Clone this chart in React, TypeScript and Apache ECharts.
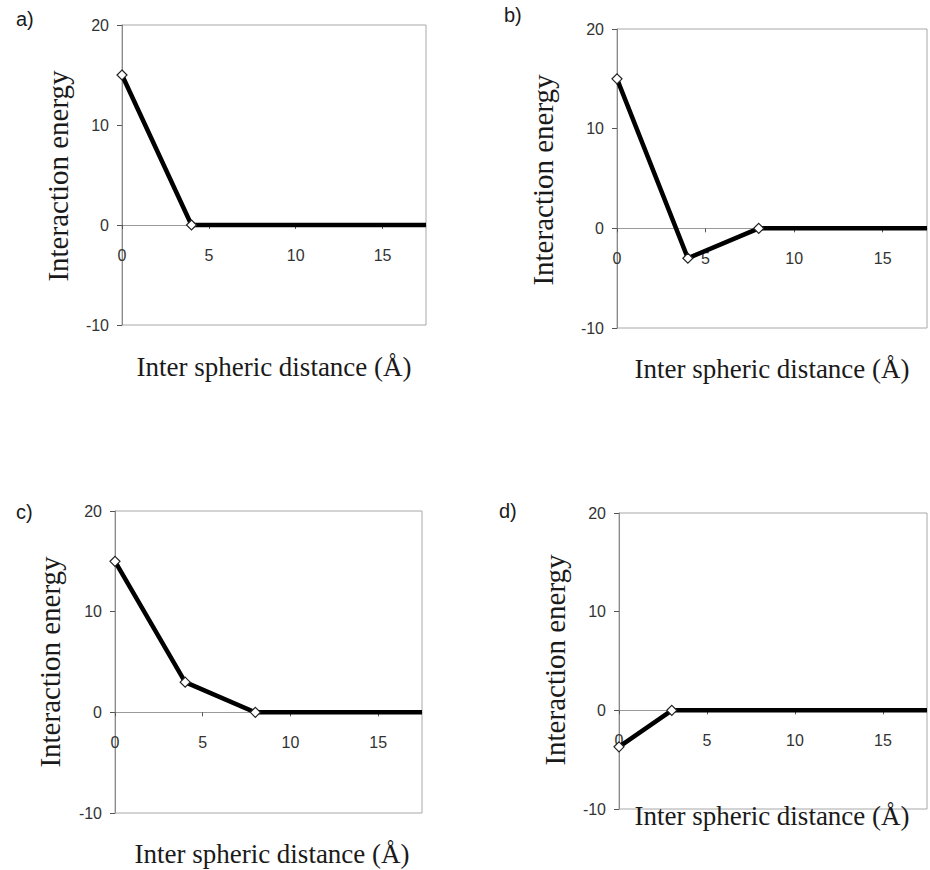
import React, { useEffect, useRef } from "react";
import * as echarts from "echarts";

const xMax = 17.5;
const yMin = -10;
const yMax = 20;

const panelLabels = ["a)", "b)", "c)", "d)"];
const xA = [0, 4, 17.5];
const yA = [15, 0, 0];
const xB = [0, 4, 8, 17.5];
const yB = [15, -3, 0, 0];
const xC = [0, 4, 8, 17.5];
const yC = [15, 3, 0, 0];
const xD = [0, 3, 17.5];
const yD = [-3.7, 0, 0];

const xTitle = "Inter spheric distance (Å)";
const yTitle = "Interaction energy";

const grids = [
  { left: 122, top: 25, width: 304, height: 300 },
  { left: 617, top: 29, width: 310, height: 299 },
  { left: 115, top: 511, width: 307, height: 302 },
  { left: 619, top: 513, width: 308, height: 296 },
];
const yTitlePos = [
  [58, 176],
  [543, 180],
  [50, 662],
  [555, 660],
];
const xTitlePos = [
  [274, 367],
  [772, 369],
  [272, 854],
  [772, 816],
];
const labelPos = [
  [16, 19],
  [504, 15],
  [16, 512],
  [499, 511],
];

export default function App() {
  const ref = useRef<HTMLDivElement>(null);
  useEffect(() => {
    if (!ref.current) return;
    const chart = echarts.init(ref.current, null, { renderer: "svg" });
    const series = [
      [xA, yA],
      [xB, yB],
      [xC, yC],
      [xD, yD],
    ];
    const option: any = {
      animation: false,
      backgroundColor: "#fff",
      grid: grids.map((g) => ({
        ...g,
        show: true,
        borderColor: "#a8a8a8",
        borderWidth: 1,
        containLabel: false,
      })),
      xAxis: grids.map((g, i) => ({
        type: "value",
        gridIndex: i,
        min: 0,
        max: xMax,
        interval: 5,
        position: "bottom",
        // place the axis at y = 0 of the value scale
        offset: -(g.height * (0 - yMin)) / (yMax - yMin),
        axisLine: { onZero: false, lineStyle: { color: "#9a9a9a", width: 1 } },
        axisTick: {
          show: true,
          length: 4,
          lineStyle: { color: "#555" },
        },
        axisLabel: {
          showMaxLabel: false,
          formatter: (v: number) => (v % 5 === 0 ? String(v) : ""),
          margin: 22,
          fontFamily: "Liberation Sans, Arial, sans-serif",
          fontSize: 16,
          color: "#333",
        },
        splitLine: { show: false },
      })),
      yAxis: grids.map((_, i) => ({
        type: "value",
        gridIndex: i,
        min: yMin,
        max: yMax,
        interval: 10,
        axisLine: { show: true, onZero: false, lineStyle: { color: "#8a8a8a", width: 1 } },
        axisTick: { show: true, length: 5, lineStyle: { color: "#555" } },
        axisLabel: {
          margin: 13,
          fontFamily: "Liberation Sans, Arial, sans-serif",
          fontSize: 16,
          color: "#333",
        },
        splitLine: { show: false },
      })),
      series: series.map(([xs, ys], i) => ({
        type: "line",
        xAxisIndex: i,
        yAxisIndex: i,
        clip: false,
        data: xs.map((x, j) => ({
          value: [x, ys[j]],
          symbol: j === xs.length - 1 ? "none" : "diamond",
        })),
        symbolSize: 10,
        lineStyle: { color: "#000", width: 4.5 },
        itemStyle: { color: "#fff", borderColor: "#222", borderWidth: 1.2 },
        z: 5,
      })),
      graphic: [
        ...yTitlePos.map(([x, y]) => ({
          type: "text",
          x,
          y,
          rotation: Math.PI / 2,
          style: {
            text: yTitle,
            font: '29px "Liberation Serif", "Times New Roman", serif',
            fill: "#1a1a1a",
            align: "center",
            verticalAlign: "middle",
          },
        })),
        ...xTitlePos.map(([x, y]) => ({
          type: "text",
          x,
          y,
          style: {
            text: xTitle,
            font: '27px "Liberation Serif", "Times New Roman", serif',
            fill: "#1a1a1a",
            align: "center",
            verticalAlign: "middle",
          },
        })),
        ...labelPos.map(([x, y], i) => ({
          type: "text",
          x,
          y,
          style: {
            text: panelLabels[i],
            font: '20px "Liberation Sans", Arial, sans-serif',
            fill: "#1a1a1a",
            align: "left",
            verticalAlign: "middle",
          },
        })),
      ],
    };
    chart.setOption(option);
    return () => chart.dispose();
  }, []);
  return (
    <div
      ref={ref}
      style={{ position: "fixed", left: 0, top: 0, width: 930, height: 870 }}
    />
  );
}
